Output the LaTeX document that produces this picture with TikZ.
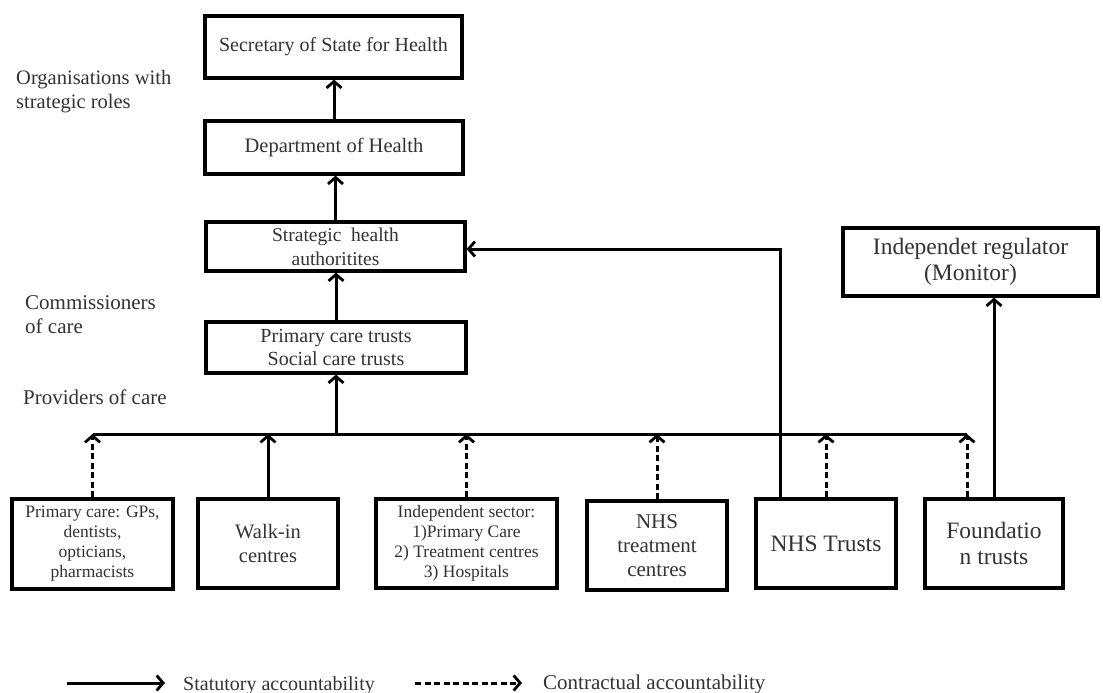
\documentclass[tikz,border=0pt]{standalone}
\usepackage{fontspec}
\setmainfont{Liberation Serif}
\usetikzlibrary{arrows.meta}
\definecolor{txt}{HTML}{333333}
\newcommand\fsz[2]{\fontsize{#1}{#2}\selectfont}
\tikzset{
  box/.style={draw=black, line width=3.2pt, text=txt, align=center, inner sep=0pt},
  lbl/.style={text=txt, align=left, inner sep=0pt, anchor=west},
  tip/.style={-{Straight Barb[length=6.5pt,width=15pt,line width=2.8pt]}},
  sarrow/.style={tip, line width=3pt},
  darrow/.style={tip, line width=3pt, dash pattern=on 6pt off 3.5pt},
  busline/.style={line width=3pt}
}
\begin{document}
\begin{tikzpicture}[x=1pt,y=-1pt]
\useasboundingbox[fill=white] (0,0) rectangle (1103,693);

% top hierarchy
\node[box, minimum width=257pt, minimum height=62pt, font=\fsz{20}{24}] (sec) at (333.5,47) {Secretary of State for Health};
\node[box, minimum width=258pt, minimum height=53pt, font=\fsz{20.5}{24}] (dept) at (334,147.5) {Department of Health};
\node[box, minimum width=259pt, minimum height=49pt, font=\fsz{19.5}{24}] (sha) at (335.5,246.5) {Strategic\ \ health\\authoritites};
\node[box, minimum width=260pt, minimum height=51pt, font=\fsz{20}{23}] (pct) at (336,347.5) {Primary care trusts\\Social care trusts};
\node[box, minimum width=255pt, minimum height=68pt, font=\fsz{23.5}{26}] (mon) at (970.5,262) {Independet regulator\\(Monitor)};

% left labels
\node[lbl, font=\fsz{20.5}{24}] (org) at (16,92) {Organisations with\\strategic roles};
\node[lbl, font=\fsz{21}{24}] (com) at (25,315) {Commissioners\\of care};
\node[lbl, font=\fsz{21}{24}] (prov) at (23,397) {Providers of care};

% providers
\node[box, minimum width=161pt, minimum height=90pt, font=\fsz{17.5}{20}] (pc) at (92.5,544) {Primary care: GPs,\\dentists,\\opticians,\\pharmacists};
\node[box, minimum width=140pt, minimum height=89pt, font=\fsz{20.5}{24}] (walk) at (268,543.5) {Walk-in\\centres};
\node[box, minimum width=181pt, minimum height=89pt, font=\fsz{17.5}{20}] (ind) at (466.5,543.5) {Independent sector:\\1)Primary Care\\2) Treatment centres\\3) Hospitals};
\node[box, minimum width=140pt, minimum height=89pt, font=\fsz{21}{24}] (nhst) at (657,545.5) {NHS\\treatment\\centres};
\node[box, minimum width=140pt, minimum height=89pt, font=\fsz{23.5}{26}] (nhs) at (826,543.5) {NHS Trusts};
\node[box, minimum width=138pt, minimum height=89pt, font=\fsz{23.5}{26}] (fnd) at (994,543.5) {Foundatio\\n trusts};

% vertical chain
\draw[sarrow] (dept.north) -- (dept.north |- sec.south);
\draw[sarrow] (sha.north) -- (sha.north |- dept.south);
\draw[sarrow] (pct.north) -- (pct.north |- sha.south);

% bus
\coordinate (bl) at (93,434);
\coordinate (br) at (967,434);
\draw[busline] (bl) -- (br);
\coordinate (bpct) at (pct.south |- bl);
\draw[sarrow] (bpct) -- (pct.south);

\draw[darrow] (pc.north) -- (pc.north |- bl);
\draw[sarrow] (walk.north) -- (walk.north |- bl);
\draw[darrow] (ind.north) -- (ind.north |- bl);
\draw[darrow] (nhst.north) -- (nhst.north |- bl);
\draw[darrow] (nhs.north) -- (nhs.north |- bl);
\coordinate (fndl) at (br |- fnd.north);
\draw[darrow] (fndl) -- (br);

% NHS trusts to SHA
\coordinate (nhsl) at ([xshift=-46pt]nhs.north);
\draw[sarrow] (nhsl) |- ([yshift=-2.5pt]sha.east);
% Foundation to Monitor
\draw[sarrow] (fnd.north) -- (fnd.north |- mon.south);

% legend
\coordinate (s1) at (67,683);
\coordinate (s2) at (165,683);
\draw[sarrow] (s1) -- (s2);
\node[text=txt, anchor=base west, inner sep=0pt, font=\fsz{20}{24}] (stat) at (183,690) {Statutory accountability};
\coordinate (d1) at (415,683);
\coordinate (d2) at (522,683);
\draw[darrow] (d1) -- (d2);
\node[text=txt, anchor=base west, inner sep=0pt, font=\fsz{21}{24}] (contr) at (543,689) {Contractual accountability};
\end{tikzpicture}
\end{document}
